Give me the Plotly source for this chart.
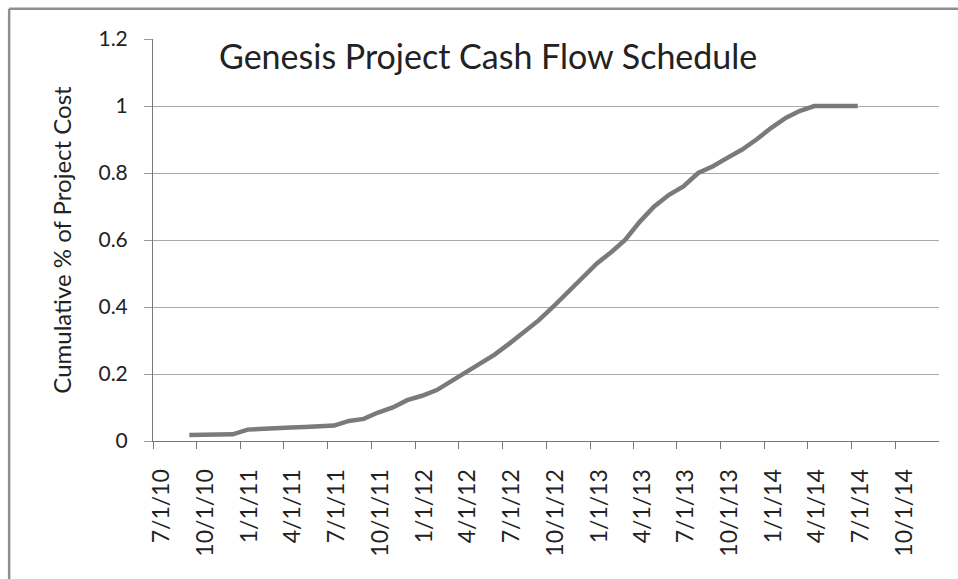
import plotly.graph_objects as go
import pandas as pd

# Monthly cumulative share of project cost (mid-month readings)
dates = pd.date_range("2010-09-01", periods=47, freq="MS") + pd.Timedelta(days=14)
dates = [d.strftime("%Y-%m-%d") for d in dates]
cumulative = [
    0.018, 0.018, 0.018, 0.020, 0.034, 0.037, 0.038, 0.040, 0.042, 0.044,
    0.046, 0.060, 0.066, 0.085, 0.100, 0.122, 0.135, 0.152, 0.177, 0.205,
    0.232, 0.258, 0.290, 0.325, 0.360, 0.400, 0.445, 0.487, 0.530, 0.565,
    0.600, 0.655, 0.700, 0.735, 0.760, 0.800, 0.820, 0.845, 0.870, 0.900,
    0.935, 0.965, 0.985, 1.000, 1.000, 1.000, 1.000,
]

tick_dates = ["2010-07-01", "2010-10-01", "2011-01-01", "2011-04-01", "2011-07-01",
              "2011-10-01", "2012-01-01", "2012-04-01", "2012-07-01", "2012-10-01",
              "2013-01-01", "2013-04-01", "2013-07-01", "2013-10-01", "2014-01-01",
              "2014-04-01", "2014-07-01", "2014-10-01"]
tick_labels = ["7/1/10", "10/1/10", "1/1/11", "4/1/11", "7/1/11", "10/1/11",
               "1/1/12", "4/1/12", "7/1/12", "10/1/12", "1/1/13", "4/1/13",
               "7/1/13", "10/1/13", "1/1/14", "4/1/14", "7/1/14", "10/1/14"]
y_ticks = [0, 0.2, 0.4, 0.6, 0.8, 1.0, 1.2]
y_labels = ["0", "0.2", "0.4", "0.6", "0.8", "1", "1.2"]

title_text = "Genesis Project Cash Flow Schedule"
y_title = "Cumulative % of Project Cost"

FONT = "Lato"

fig = go.Figure()
fig.add_trace(go.Scatter(
    x=dates, y=cumulative, mode="lines",
    line=dict(color="#7a7a7a", width=4.5),
    hoverinfo="skip", showlegend=False,
))

border = dict(color="#8f8f8f", width=2.5)

fig.update_layout(
    width=958, height=579,
    margin=dict(l=153, r=19, t=39, b=138),
    paper_bgcolor="white", plot_bgcolor="white",
    font=dict(family=FONT, color="#222222"),
    xaxis=dict(
        type="date", range=["2010-07-01", "2015-01-01"],
        tickmode="array", tickvals=tick_dates, ticktext=tick_labels,
        tickangle=-90, tickfont=dict(size=23, family=FONT, color="#222"),
        ticks="outside", ticklen=7, tickcolor="#777", tickwidth=1,
        ticklabelshift=9, ticklabelstandoff=11,
        showline=True, linecolor="#777", linewidth=1,
        showgrid=False, zeroline=False,
    ),
    yaxis=dict(
        range=[0, 1.2], tickmode="array", tickvals=y_ticks, ticktext=y_labels,
        tickfont=dict(size=21, family=FONT, color="#222"),
        ticks="outside", ticklen=8, tickcolor="#999", tickwidth=1,
        ticklabelstandoff=12,
        showline=True, linecolor="#777", linewidth=1,
        showgrid=True, gridcolor="#a8a8a8", gridwidth=1,
        zeroline=False,
        title=dict(text=y_title, font=dict(size=24, family=FONT, color="#222"), standoff=20),
    ),
    shapes=[
        dict(type="line", xref="paper", yref="paper",
             x0=-0.1830, x1=-0.1830, y0=1.075, y1=-0.40, line=border, layer="below"),
        dict(type="line", xref="paper", yref="paper",
             x0=-0.1830, x1=1.05, y0=1.075, y1=1.075, line=border, layer="below"),
    ],
    annotations=[dict(text=title_text, xref="paper", yref="paper", x=0.426, y=0.958,
                      xanchor="center", yanchor="middle", showarrow=False,
                      font=dict(size=34, family=FONT, color="#222"))],
)

fig.write_html("out.html",
               config={"displayModeBar": False},
               post_script="document.body.style.margin='0';document.body.style.overflow='hidden';")
